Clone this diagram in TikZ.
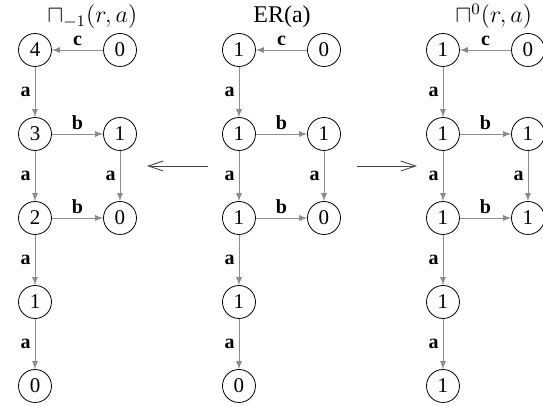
\documentclass[tikz,border=0pt]{standalone}
\usepackage{amsmath, amssymb}
\usepackage{fontspec}
\setmainfont{Liberation Serif}
\usetikzlibrary{arrows.meta}

\begin{document}
\begin{tikzpicture}[
    x=0.5pt, y=-0.5pt,
    state/.style={circle, draw, thin, minimum size=16.5pt, inner sep=0pt, font=\fontsize{10.5}{12}\selectfont},
    edge/.style={-latex, draw=black!45, thin},
    lbl/.style={font=\bfseries, inner sep=2pt},
    maparrow/.style={-{Straight Barb[length=7.5pt, width=5pt]}, draw=black!75, thin},
    title/.style={anchor=base west, font=\large, inner sep=0pt}
]
    \useasboundingbox (0,0) rectangle (543,406);

    % titles
    \node[title] (tl) at (47, 23) {$\sqcap_{-1}(r,a)$};
    \node[title] (tm) at (253, 23) {ER(a)};
    \node[title] (tr) at (455, 23) {$\sqcap^{0}(r,a)$};

    % left graph
    \node[state] (l1) at (35, 50) {4};
    \node[state] (l1r) at (120, 50) {0};
    \node[state] (l2) at (35, 134) {3};
    \node[state] (l2r) at (120, 134) {1};
    \node[state] (l3) at (35, 218) {2};
    \node[state] (l3r) at (120, 218) {0};
    \node[state] (l4) at (35, 302) {1};
    \node[state] (l5) at (35, 386) {0};
    \draw[edge] (l1r) -- node[lbl, above] {c} (l1);
    \draw[edge] (l1) -- node[lbl, left] {a} (l2);
    \draw[edge] (l2) -- node[lbl, above] {b} (l2r);
    \draw[edge] (l2) -- node[lbl, left] {a} (l3);
    \draw[edge] (l2r) -- node[lbl, left] {a} (l3r);
    \draw[edge] (l3) -- node[lbl, above] {b} (l3r);
    \draw[edge] (l3) -- node[lbl, left] {a} (l4);
    \draw[edge] (l4) -- node[lbl, left] {a} (l5);

    % middle graph
    \node[state] (m1) at (239, 50) {1};
    \node[state] (m1r) at (324, 50) {0};
    \node[state] (m2) at (239, 134) {1};
    \node[state] (m2r) at (324, 134) {1};
    \node[state] (m3) at (239, 218) {1};
    \node[state] (m3r) at (324, 218) {0};
    \node[state] (m4) at (239, 302) {1};
    \node[state] (m5) at (239, 386) {0};
    \draw[edge] (m1r) -- node[lbl, above] {c} (m1);
    \draw[edge] (m1) -- node[lbl, left] {a} (m2);
    \draw[edge] (m2) -- node[lbl, above] {b} (m2r);
    \draw[edge] (m2) -- node[lbl, left] {a} (m3);
    \draw[edge] (m2r) -- node[lbl, left] {a} (m3r);
    \draw[edge] (m3) -- node[lbl, above] {b} (m3r);
    \draw[edge] (m3) -- node[lbl, left] {a} (m4);
    \draw[edge] (m4) -- node[lbl, left] {a} (m5);

    % right graph
    \node[state] (r1) at (443, 50) {1};
    \node[state] (r1r) at (528, 50) {0};
    \node[state] (r2) at (443, 134) {1};
    \node[state] (r2r) at (528, 134) {1};
    \node[state] (r3) at (443, 218) {1};
    \node[state] (r3r) at (528, 218) {1};
    \node[state] (r4) at (443, 302) {1};
    \node[state] (r5) at (443, 386) {1};
    \draw[edge] (r1r) -- node[lbl, above] {c} (r1);
    \draw[edge] (r1) -- node[lbl, left] {a} (r2);
    \draw[edge] (r2) -- node[lbl, above] {b} (r2r);
    \draw[edge] (r2) -- node[lbl, left] {a} (r3);
    \draw[edge] (r2r) -- node[lbl, left] {a} (r3r);
    \draw[edge] (r3) -- node[lbl, above] {b} (r3r);
    \draw[edge] (r3) -- node[lbl, left] {a} (r4);
    \draw[edge] (r4) -- node[lbl, left] {a} (r5);

    % maps between graphs
    \coordinate (lfrom) at (208, 166);
    \coordinate (lto) at (147, 166);
    \coordinate (rfrom) at (357, 166);
    \coordinate (rto) at (417, 166);
    \draw[maparrow] (lfrom) -- (lto);
    \draw[maparrow] (rfrom) -- (rto);
\end{tikzpicture}
\end{document}
